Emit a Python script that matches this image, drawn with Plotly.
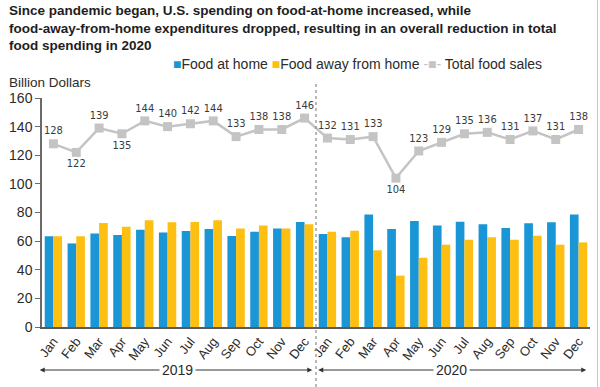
import plotly.graph_objects as go

months = ["Jan", "Feb", "Mar", "Apr", "May", "Jun", "Jul", "Aug", "Sep", "Oct", "Nov", "Dec"]
month_labels = months + months
years = ["2019", "2020"]
series_names = ["Food at home", "Food away from home", "Total food sales"]

food_at_home = [63.4, 58.4, 65.4, 64.3, 67.9, 66.1, 67.0, 68.4, 63.6, 66.6, 68.9, 73.4,
                65.0, 62.7, 78.6, 68.4, 74.1, 70.9, 73.6, 71.8, 69.1, 72.5, 73.2, 78.6]
food_away = [63.4, 63.4, 72.7, 70.0, 74.5, 73.2, 73.4, 74.5, 68.9, 70.9, 68.9, 71.8,
             66.6, 67.3, 53.6, 35.9, 48.4, 57.5, 60.9, 62.7, 60.9, 63.8, 57.5, 59.1]
total_sales = [128, 122, 139, 135, 144, 140, 142, 144, 133, 138, 138, 146,
               132, 131, 133, 104, 123, 129, 135, 136, 131, 137, 131, 138]
below_label_idx = [1, 3, 15]

x = list(range(len(month_labels)))

BLUE = "#1a96d6"
YELLOW = "#fcbf12"
GRAY = "#c4c4c4"
TXT = "#2b2b2b"
FONT = "Liberation Sans, Arial, sans-serif"
NARROW = "DejaVu Sans Condensed, Liberation Sans Narrow, Arial Narrow, sans-serif"

positions = ["bottom center" if i in below_label_idx else "top center" for i in x]

fig = go.Figure()
fig.add_trace(go.Bar(x=x, y=food_at_home, name=series_names[0], marker_color=BLUE,
                     marker_line_width=0))
fig.add_trace(go.Bar(x=x, y=food_away, name=series_names[1], marker_color=YELLOW,
                     marker_line_width=0))
fig.add_trace(go.Scatter(x=x, y=total_sales, name=series_names[2], mode="lines+markers+text",
                         line=dict(color=GRAY, width=2.5),
                         marker=dict(symbol="square", size=9, color=GRAY),
                         text=[str(v) for v in total_sales], textposition=positions,
                         textfont=dict(family=NARROW, size=11, color="#3a3a3a"),
                         cliponaxis=False))

L, R, T, B = 42, 10, 98, 60
W, H = 600, 387
pw = W - L - R
ph = H - T - B

def py(pix):
    return (H - B - pix) / ph

def px(pix):
    return (pix - L) / pw

legend_text = (f'<span style="color:{BLUE}">■</span>{series_names[0]} '
               f'<span style="color:{YELLOW}">■</span>{series_names[1]} '
               f'<span style="color:{GRAY}">-■-</span> {series_names[2]}')

annotations = [
    dict(text="<b>Since pandemic began, U.S. spending on food-at-home increased, while<br>"
              "food-away-from-home expenditures dropped, resulting in an overall reduction in total<br>"
              "food spending in 2020</b>",
         xref="paper", yref="paper", x=px(7), y=py(1), xanchor="left", yanchor="top",
         align="left", showarrow=False, font=dict(family=FONT, size=13.5, color="#1e1e1e")),
    dict(text=legend_text, xref="paper", yref="paper", x=px(171), y=py(64),
         xanchor="left", yanchor="middle", showarrow=False,
         font=dict(family=FONT, size=14, color=TXT)),
    dict(text="Billion Dollars", xref="paper", yref="paper", x=px(7), y=py(83),
         xanchor="left", yanchor="middle", showarrow=False,
         font=dict(family=FONT, size=13.5, color=TXT)),
]
# year brackets with arrows at both ends
arrow_y = py(370)
for (x0, x1, xc, label) in [(-0.6, 11.4, 5.45, years[0]), (11.6, 23.4, 17.45, years[1])]:
    annotations.append(dict(x=x0, y=arrow_y, ax=x1, ay=0, xref="x", yref="paper",
                            axref="x", ayref="pixel", text="", showarrow=True,
                            arrowhead=2, arrowsize=1, arrowwidth=1, arrowside="end+start",
                            arrowcolor="#333333"))
    annotations.append(dict(x=xc, y=arrow_y, xref="x", yref="paper", text=label,
                            xanchor="center", yanchor="middle",
                            showarrow=False, bgcolor="white", borderpad=2,
                            font=dict(family=FONT, size=14, color=TXT)))

shapes = [
    dict(type="line", xref="x", yref="paper", x0=11.5, x1=11.5, y0=py(387), y1=py(84),
         line=dict(color="#8a8a8a", width=1.2, dash="dot")),
    dict(type="line", xref="paper", yref="paper", x0=px(597.5), x1=px(597.5), y0=py(387), y1=py(0),
         line=dict(color="#c8c8c8", width=1)),
]

fig.update_layout(
    width=W, height=H, margin=dict(l=L, r=R, t=T, b=B, autoexpand=False),
    paper_bgcolor="white", plot_bgcolor="white",
    barmode="group", bargap=0.24, bargroupgap=0,
    font=dict(family=FONT, size=13, color=TXT),
    showlegend=False,
    annotations=annotations, shapes=shapes,
    xaxis=dict(range=[-0.5, 23.5], tickmode="array", tickvals=x, ticktext=month_labels,
               tickangle=-52, showgrid=False, zeroline=False, showline=True,
               linecolor="#5a5a5a", linewidth=1.5, ticks="", automargin=False,
               tickfont=dict(family=FONT, size=13, color=TXT)),
    yaxis=dict(range=[0, 160], tickvals=[0, 20, 40, 60, 80, 100, 120, 140, 160],
               showgrid=False, zeroline=False, showline=True, linecolor="#6a6a6a",
               linewidth=1.5, ticks="outside", ticklen=5, tickcolor="#6a6a6a",
               automargin=False,
               tickfont=dict(family=FONT, size=14, color=TXT)),
)

fig.write_html("out.html", config={"displayModeBar": False},
               post_script="document.body.style.margin='0';document.body.style.overflow='hidden';")
